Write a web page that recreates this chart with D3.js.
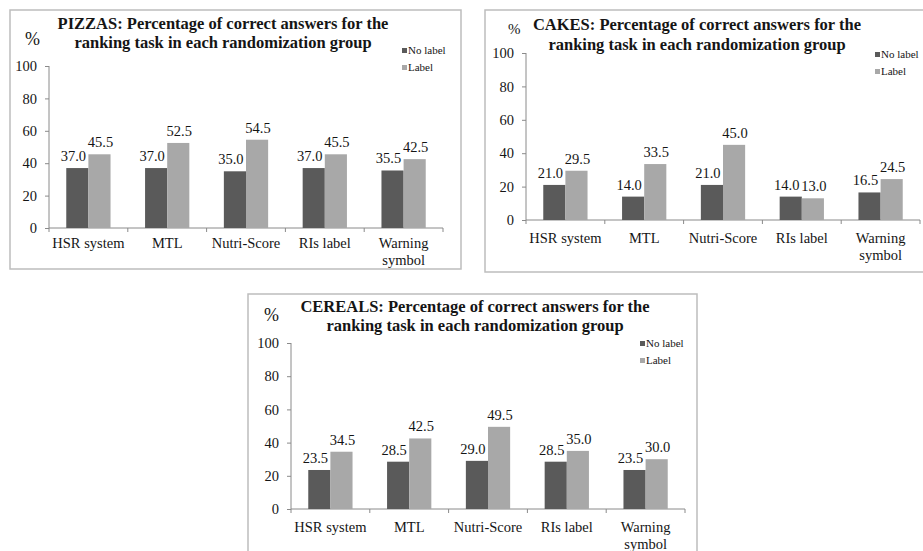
<!DOCTYPE html>
<html>
<head>
<meta charset="utf-8">
<script src="https://cdn.jsdelivr.net/npm/d3@7"></script>
<style>
  body { margin: 0; background: #fff; }
  svg text { font-family: 'Liberation Serif', 'Times New Roman', serif; fill: #151515; }
  .box { fill: #fff; stroke: #bdbdbd; stroke-width: 1.5; }
  .axis path, .axis line { stroke: #8a8a8a; }
</style>
</head>
<body>
<svg id="chart" width="923" height="551"></svg>
<script>
var categories = ["HSR system", "MTL", "Nutri-Score", "RIs label", "Warning symbol"];
var seriesNames = ["No label", "Label"];
var yTicks = [0, 20, 40, 60, 80, 100];

var pizzaNoLabel = [37.0, 37.0, 35.0, 37.0, 35.5];
var pizzaLabel = [45.5, 52.5, 54.5, 45.5, 42.5];
var cakesNoLabel = [21.0, 14.0, 21.0, 14.0, 16.5];
var cakesLabel = [29.5, 33.5, 45.0, 13.0, 24.5];
var cerealsNoLabel = [23.5, 28.5, 29.0, 28.5, 23.5];
var cerealsLabel = [34.5, 42.5, 49.5, 35.0, 30.0];

var colors = ["#5a5a5a", "#a8a8a8"];
var serif = "'Liberation Serif', 'Times New Roman', serif";

function drawPanel(svg, p) {
    var g = svg.append("g");

    g.append("rect").attr("class", "box")
        .attr("x", p.box[0]).attr("y", p.box[1])
        .attr("width", p.box[2]).attr("height", p.box[3]);

    var x0 = d3.scaleBand().domain(categories).range([p.left, p.right]);
    var x1 = d3.scaleBand().domain(seriesNames)
        .range([0, x0.bandwidth()]).paddingOuter(0.78);
    var y = d3.scaleLinear().domain([0, 100]).range([p.bottom, p.top]);

    // y axis
    var yAxis = g.append("g").attr("class", "axis")
        .attr("transform", "translate(" + p.left + ",0)")
        .call(d3.axisLeft(y).tickValues(yTicks).tickSize(4).tickPadding(8));
    yAxis.attr("font-family", null);
    yAxis.selectAll("text").style("font-size", "14.5px")
        .style("font-family", serif);
    yAxis.select(".domain").attr("d", "M0," + p.bottom + "V" + p.top);

    // x axis: ticks at band edges
    var xg = g.append("g").attr("class", "axis")
        .attr("transform", "translate(0," + p.bottom + ")");
    xg.append("path").attr("d", "M" + p.left + ",0H" + p.right)
        .attr("fill", "none").attr("stroke", "#8a8a8a");
    xg.selectAll("line").data(categories.concat(["end"])).enter()
        .append("line")
        .attr("x1", function(d, i) { return p.left + i * x0.step(); })
        .attr("x2", function(d, i) { return p.left + i * x0.step(); })
        .attr("y1", 0).attr("y2", 4);
    var lab = xg.selectAll(".cat").data(categories).enter()
        .append("text").attr("class", "cat")
        .attr("text-anchor", "middle")
        .style("font-size", "14.5px")
        .attr("transform", function(d) {
            return "translate(" + (x0(d) + x0.bandwidth() / 2) + "," + p.labelDy + ")"; });
    lab.selectAll("tspan")
        .data(function(d) { return d == "Warning symbol" ? ["Warning", "symbol"] : [d]; })
        .enter().append("tspan")
        .attr("x", 0)
        .attr("y", function(d, i) { return i * 17; })
        .text(function(d) { return d; });

    // bars
    var rows = categories.map(function(c, i) {
        return {cat: c, vals: [p.noLabel[i], p.label[i]]};
    });
    var grp = g.selectAll(".grp").data(rows).enter().append("g")
        .attr("transform", function(d) { return "translate(" + x0(d.cat) + ",0)"; });
    grp.selectAll("rect").data(function(d) { return d.vals; }).enter()
        .append("rect")
        .attr("x", function(d, i) { return x1(seriesNames[i]); })
        .attr("y", function(d) { return y(d); })
        .attr("width", x1.bandwidth())
        .attr("height", function(d) { return p.bottom - y(d); })
        .attr("fill", function(d, i) { return colors[i]; });
    grp.selectAll(".val").data(function(d) { return d.vals; }).enter()
        .append("text").attr("class", "val")
        .attr("text-anchor", "middle")
        .style("font-size", "14.5px")
        .attr("x", function(d, i) {
            return x1(seriesNames[i]) + x1.bandwidth() / 2 + (i == 0 ? -4 : 1); })
        .attr("y", function(d) { return y(d) - 7; })
        .text(function(d) { return d.toFixed(1); });

    // title
    g.append("text").attr("text-anchor", "middle")
        .attr("x", p.titleX).attr("y", p.titleY[0])
        .style("font-size", "16.5px").style("font-weight", "bold")
        .text(p.name + ": Percentage of correct answers for the");
    g.append("text").attr("text-anchor", "middle")
        .attr("x", p.titleX).attr("y", p.titleY[1])
        .style("font-size", "16.5px").style("font-weight", "bold")
        .text("ranking task in each randomization group");

    g.append("text").attr("x", p.pct[0]).attr("y", p.pct[1])
        .style("font-size", p.pct[2] + "px").text("%");

    // legend
    var leg = g.selectAll(".leg").data(seriesNames).enter().append("g")
        .attr("transform", function(d, i) {
            return "translate(" + p.legend[0] + "," + (p.legend[1] + i * 17) + ")"; });
    leg.append("rect").attr("x", 0).attr("y", -6).attr("width", 5).attr("height", 5)
        .attr("fill", function(d, i) { return colors[i]; });
    leg.append("text").attr("x", 6).style("font-size", "11px")
        .text(function(d) { return d; });
}

var svg = d3.select("#chart");

drawPanel(svg, {
    name: "PIZZAS", noLabel: pizzaNoLabel, label: pizzaLabel,
    box: [10, 10, 451, 259], left: 49, right: 443, top: 66, bottom: 228,
    labelDy: 20, titleX: 223, titleY: [29, 48], pct: [25, 45, 18], legend: [402, 54]
});
drawPanel(svg, {
    name: "CAKES", noLabel: cakesNoLabel, label: cakesLabel,
    box: [485, 10, 450, 262], left: 526, right: 920, top: 53, bottom: 220,
    labelDy: 23, titleX: 697, titleY: [30, 50], pct: [508, 34, 15], legend: [875, 58]
});
drawPanel(svg, {
    name: "CEREALS", noLabel: cerealsNoLabel, label: cerealsLabel,
    box: [248, 294, 449, 270], left: 291, right: 685, top: 343, bottom: 509,
    labelDy: 23, titleX: 475, titleY: [312, 331], pct: [264, 321, 18], legend: [640, 347]
});
</script>
</body>
</html>
